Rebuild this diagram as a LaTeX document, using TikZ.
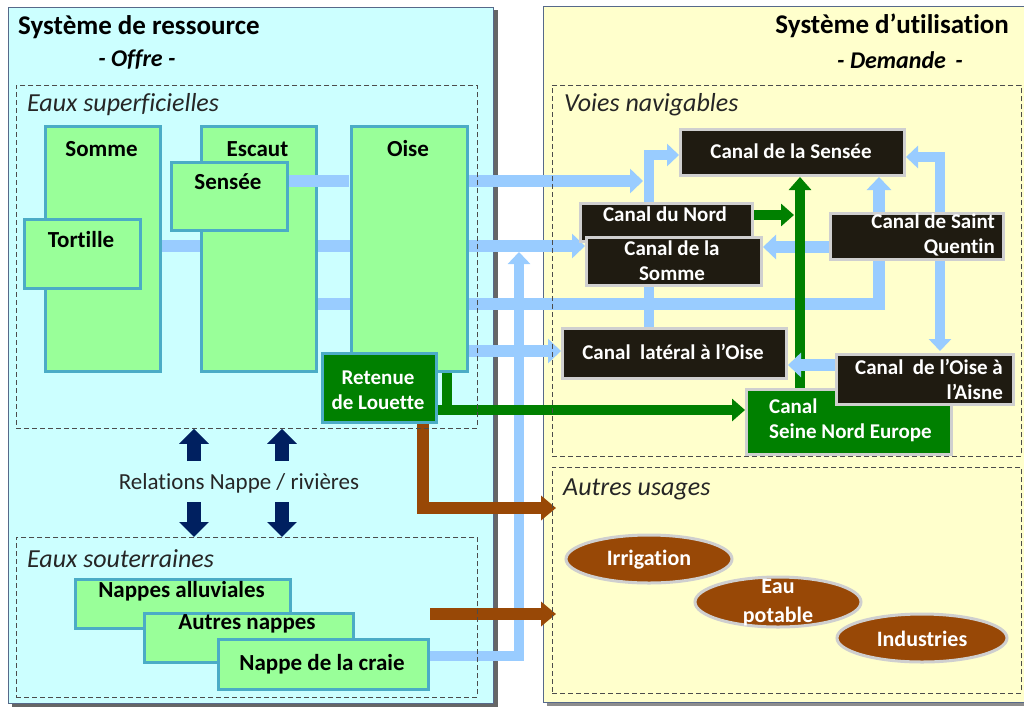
\documentclass[tikz,border=0pt]{standalone}
\usepackage{fontspec}
\setmainfont{Carlito}[Ligatures=NoCommon]
\usetikzlibrary{arrows.meta,shapes.geometric,calc}
\pgfdeclarelayer{bg}
\pgfdeclarelayer{conn}
\pgfsetlayers{bg,conn,main}
\definecolor{cyanbg}{HTML}{CCFFFF}
\definecolor{yelbg}{HTML}{FFFFCC}
\definecolor{panelbd}{HTML}{56698A}
\definecolor{lgreen}{HTML}{99FF99}
\definecolor{tealbd}{HTML}{4BACC6}
\definecolor{dgreen}{HTML}{008000}
\definecolor{canal}{HTML}{1F1B11}
\definecolor{cgray}{HTML}{CFCFCF}
\definecolor{lblue}{HTML}{99CCFF}
\definecolor{brownc}{HTML}{984806}
\definecolor{navy}{HTML}{002060}
\definecolor{shadowc}{HTML}{404040}
\tikzset{
  grpbox/.style={draw=black!70, dash pattern=on 5pt off 3pt, line width=0.9pt, inner sep=0pt, anchor=north west},
  gbox/.style={fill=lgreen, draw=tealbd, line width=2.5pt, inner sep=0pt, anchor=north west},
  dgbox/.style={fill=dgreen, draw=tealbd, line width=2.5pt, inner sep=0pt, anchor=north west},
  cbox/.style={fill=canal, draw=cgray, line width=3pt, inner sep=0pt, anchor=north west},
  sbox/.style={fill=dgreen, draw=cgray, line width=3pt, inner sep=0pt, anchor=north west},
  ell/.style={ellipse, fill=brownc, draw=cgray, line width=3pt, inner sep=0pt},
  ttl/.style={font=\fontsize{27}{32}\selectfont\bfseries, inner sep=0pt},
  subttl/.style={font=\fontsize{24}{28}\selectfont\bfseries\itshape, inner sep=0pt},
  grplbl/.style={font=\fontsize{26}{30}\selectfont\itshape, inner sep=0pt, anchor=west, text=black!85},
  btxt/.style={font=\fontsize{23}{27}\selectfont\bfseries, inner sep=0pt},
  wtxt/.style={font=\fontsize{21}{25}\selectfont\bfseries, text=white, inner sep=0pt},
  etxt/.style={font=\fontsize{22}{29}\selectfont\bfseries, text=white, inner sep=0pt},
  bline/.style={draw=lblue, line width=12pt},
  barrow/.style={draw=lblue, line width=12pt, -{Triangle[width=24pt,length=13pt]}},
  tbarrow/.style={draw=lblue, line width=10pt, -{Triangle[width=22pt,length=12pt]}},
  gline/.style={draw=dgreen, line width=10pt},
  garrow/.style={draw=dgreen, line width=10pt, -{Triangle[width=22pt,length=13pt]}},
  brarrow/.style={draw=brownc, line width=12pt, -{Triangle[width=24pt,length=15pt]}},
  navyarrow/.style={draw=navy, line width=14pt, -{Triangle[width=29pt,length=15pt]}}
}
\begin{document}
\begin{tikzpicture}[x=1pt,y=-1pt]
\useasboundingbox (0,0) rectangle (1024,707);
\begin{pgfonlayer}{bg}
  % panels
  \fill[shadowc!80] (12,10) rectangle (498,707);
  \fill[cyanbg, draw=panelbd, line width=1pt] (8,7) rectangle (493,703);
  \fill[shadowc!60] (547,9) rectangle (1040,706);
  \fill[yelbg, draw=panelbd, line width=1pt] (543,6) rectangle (1036,702);
\end{pgfonlayer}

% group boxes
\node[grpbox, minimum width=461pt, minimum height=343pt] (esup) at (16,85) {};
\node[grpbox, minimum width=461pt, minimum height=160pt] (esout) at (16,537) {};
\node[grpbox, minimum width=469pt, minimum height=371pt] (voies) at (552,85) {};
\node[grpbox, minimum width=469pt, minimum height=226pt] (autres) at (552,467) {};

% titles
\node[ttl, anchor=west] (t1) at (18,27) {Système de ressource};
\node[subttl] (t1s) at (137,60) {- Offre -};
\node[ttl, anchor=east] (t2) at (1009,26) {Système d’utilisation};
\node[subttl] (t2s) at (900,60) {- Demande\ \,-};
\node[grplbl] (l1) at (27,105) {Eaux superficielles};
\node[grplbl] (l2) at (27,559) {Eaux souterraines};
\node[grplbl] (l3) at (564,105) {Voies navigables};
\node[grplbl] (l4) at (563,489) {Autres usages};

% river boxes
\node[gbox, minimum width=115pt, minimum height=245pt] (somme) at (44,125) {};
\node[gbox, minimum width=116pt, minimum height=69pt] (tortille) at (23,218) {};
\node[gbox, minimum width=116pt, minimum height=245pt] (oise) at (350,125) {};
\node[gbox, minimum width=115pt, minimum height=245pt] (escaut) at (200,125) {};
\node[gbox, minimum width=116pt, minimum height=68pt] (sensee) at (170,161) {};
\draw[bline] (sensee.east |- 0,181) -- ([xshift=-1.5pt]oise.west |- 0,181);
\node[dgbox, minimum width=114pt, minimum height=69pt] (retenue) at (321,352) {};

\node[btxt] (somme-t) at (101.5,149) {Somme};
\node[btxt] (escaut-t) at (257.5,149) {Escaut};
\node[btxt] (oise-t) at (408,149) {Oise};
\node[btxt] (sensee-t) at (228,182) {Sensée};
\node[btxt] (tortille-t) at (81,240) {Tortille};
\node[wtxt, align=center] (retenue-t) at (378,390) {Retenue\\de Louette};

% ground water boxes
\node[gbox, minimum width=215pt, minimum height=49pt] (alluv) at (74,578) {};
\node[gbox, minimum width=209pt, minimum height=49pt] (anappes) at (143,612) {};
\node[gbox, minimum width=210pt, minimum height=50pt] (craie) at (217,638) {};
\node[btxt] (alluv-t) at (181.5,591) {Nappes alluviales};
\node[btxt] (anappes-t) at (247,624) {Autres nappes};
\node[btxt] (craie-t) at (322,664) {Nappe de la craie};

% relations
\node[font=\fontsize{23}{27}\selectfont, text=black!85, inner sep=0pt] (rel) at (239,483) {Relations Nappe / rivières};

% canal boxes
\node[cbox, minimum width=224pt, minimum height=46pt] (csens) at (679,128) {};
\node[cbox, minimum width=172pt, minimum height=38pt] (nord) at (579,202) {};
\node[cbox, minimum width=175pt, minimum height=48pt] (csomme) at (585,236) {};
\node[cbox, minimum width=173pt, minimum height=46pt] (sq) at (829,212) {};
\node[cbox, minimum width=224pt, minimum height=50pt] (lat) at (561,327) {};
\node[sbox, minimum width=205pt, minimum height=65pt] (sne) at (745,388) {};
\node[cbox, minimum width=177pt, minimum height=50pt] (oa) at (835,353) {};

\node[wtxt] (csens-t) at (791,151) {Canal de la Sensée};
\node[wtxt] (nord-t) at (665,214) {Canal du Nord};
\node[wtxt, align=center] (csomme-t) at (672,260.5) {Canal de la\\Somme};
\node[wtxt, align=right, anchor=east] (sq-t) at (995,235) {Canal de Saint\\Quentin};
\node[wtxt] (lat-t) at (673,352) {Canal\ \ latéral à l’Oise};
\node[wtxt, align=right, anchor=east] (oa-t) at (1003,379.5) {Canal\ \ de l’Oise à\\l’Aisne};
\node[wtxt, align=left, anchor=west] (sne-t) at (769,420.5) {Canal\\Seine Nord Europe};

% other uses
\node[ell, minimum width=166pt, minimum height=48pt] (irr) at (649,559) {};
\node[ell, minimum width=166pt, minimum height=50pt] (eau) at (778,602) {};
\node[ell, minimum width=170pt, minimum height=48pt] (ind) at (922,638) {};
\node[etxt] (irr-t) at (649,560) {Irrigation};
\node[etxt, align=center] (eau-t) at (778,603) {Eau\\potable};
\node[etxt] (ind-t) at (922,639) {Industries};

% named free ends
\coordinate (jA) at (649,181);
\coordinate (tipC) at (519,252);
\coordinate (gtip) at (794,215);
\coordinate (bt1) at (556,508);
\coordinate (bs2) at (430,614);
\coordinate (bt2) at (556,614);

\begin{pgfonlayer}{conn}
  % river bars
  \draw[bline] (somme.east |- 0,246) -- (escaut.west |- 0,246);
  \draw[bline] (escaut.east |- 0,246) -- (oise.west |- 0,246);
  \draw[bline] (escaut.east |- 0,304) -- (oise.west |- 0,304);
  % Oise to canals
  \draw[barrow] (oise.east |- jA) -- ([xshift=-6pt]jA);
  \draw[tbarrow] (lat.north -| jA) |- (csens.west |- 0,155);
  \draw[barrow] (oise.east |- 0,246) -- (csomme.west |- 0,246);
  \draw[barrow] (oise.east |- 0,304) -| (csens.south -| 879,0);
  \draw[barrow] (oise.east |- 0,351) -- (lat.west |- 0,351);
  % nappe de la craie
  \draw[tbarrow] (craie.east |- 0,656) -| (tipC);
  % Saint Quentin
  \draw[barrow] (sq.west |- 0,247) -- (csomme.east |- 0,247);
  \draw[tbarrow] (sq.north -| 940,0) |- (csens.east |- 0,157);
  \draw[tbarrow] (sq.south -| 940,0) -- ([yshift=2pt]oa.north -| 940,0);
  % green
  \draw[garrow] (nord.east |- gtip) -- (gtip);
  \draw[garrow] (sne.north -| 800,0) -- (csens.south -| 800,0);
  \draw[gline] (oise.south -| 447,0) -- (447,415);
  \draw[garrow] (retenue.east |- 0,410) -- (sne.west |- 0,410);
  % Oise-Aisne to lateral
  \draw[barrow] (oa.west |- 0,365) -- (lat.east |- 0,365);
  % brown
  \draw[brarrow] (retenue.south -| 423,0) |- (bt1);
  \draw[brarrow] (bs2) -- (bt2);
  % navy
  \draw[navyarrow] (194,461) -- (esup.south -| 194,0);
  \draw[navyarrow] (282,461) -- (esup.south -| 282,0);
  \draw[navyarrow] (194,502) -- (esout.north -| 194,0);
  \draw[navyarrow] (282,502) -- (esout.north -| 282,0);
\end{pgfonlayer}
\end{tikzpicture}
\end{document}
